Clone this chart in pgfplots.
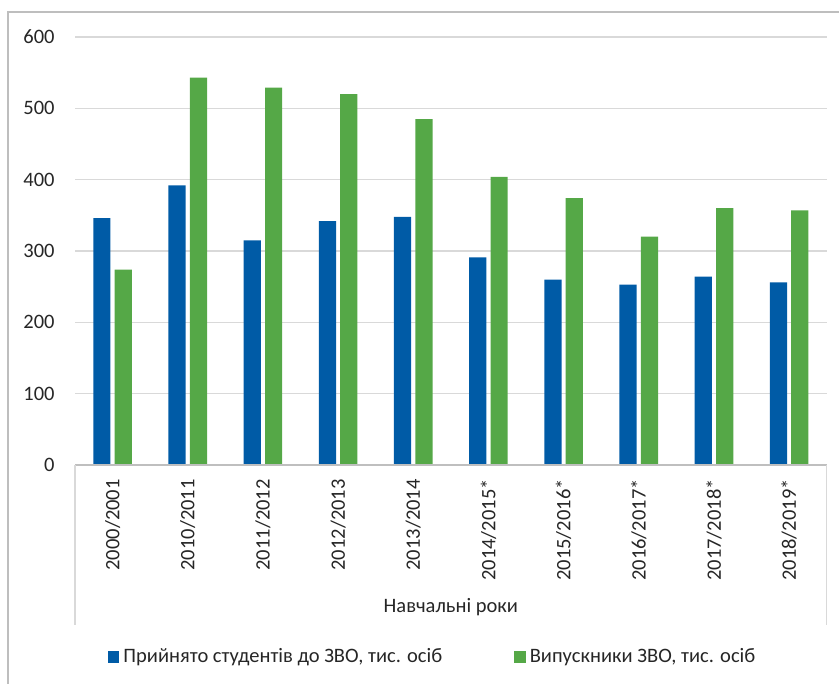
\documentclass[border=0pt]{standalone}
\usepackage{fontspec}
\setmainfont{Carlito}
\usepackage{pgfplots}
\pgfplotsset{compat=1.18}
\definecolor{barblue}{HTML}{005BA6}
\definecolor{bargreen}{HTML}{55A847}
\definecolor{gridgray}{HTML}{D9D9D9}
\definecolor{axisgray}{HTML}{BFBFBF}
\definecolor{framegray}{HTML}{BEBEBE}
\definecolor{txt}{HTML}{262626}
\newcommand{\chartfont}{\fontsize{10.25}{12}\selectfont}

\begin{document}
\begin{tikzpicture}
\useasboundingbox (0,0) rectangle (419.5pt,-342pt);
\begin{axis}[
    at={(37.5pt,-232.5pt)}, anchor=south west,
    scale only axis,
    width=375.85pt, height=214pt,
    ybar, bar width=8.6pt,
    xmin=-0.5, xmax=9.5,
    ymin=0, ymax=600,
    ytick={0,100,...,600},
    xtick={0,...,9},
    xticklabels={2000/2001, 2010/2011, 2011/2012, 2012/2013, 2013/2014,
                 2014/2015*, 2015/2016*, 2016/2017*, 2017/2018*, 2018/2019*},
    major tick length=0pt,
    axis line style={draw=none},
    ymajorgrids,
    grid style={gridgray, line width=0.6pt},
    clip=false,
    /pgf/number format/assume math mode=true,
    every tick label/.append style={font=\chartfont, text=txt},
    y tick label style={anchor=east, inner sep=0pt, xshift=-10pt},
    x tick label style={yshift=-7pt, rotate=90, anchor=east, inner sep=0pt},
    xlabel={Навчальні роки},
    xlabel style={at={(axis description cs:0.5,-0.3318)}, anchor=center,
                  font=\chartfont, text=txt},
    legend columns=2,
    legend style={draw=none, fill=none, at={(0.477,-0.4486)}, anchor=center,
                  font=\chartfont, text=txt,
                  /tikz/every even column/.append style={column sep=34pt}},
    legend image code/.code={\draw[#1,/tikz/.cd,draw=none] (0pt,-2.9pt) rectangle (5.8pt,2.9pt);},
]
\addplot[fill=barblue, draw=none, bar shift=-5.35pt] coordinates {
    (0,346) (1,392) (2,315) (3,342) (4,348)
    (5,291) (6,260) (7,253) (8,264) (9,256)
};
\addplot[fill=bargreen, draw=none, bar shift=5.35pt] coordinates {
    (0,274) (1,543) (2,529) (3,520) (4,485)
    (5,404) (6,374) (7,320) (8,360) (9,357)
};
\legend{{Прийнято студентів до ЗВО, тис. осіб}, {Випускники ЗВО, тис. осіб}}

% category axis box
\draw[axisgray, line width=0.6pt] (axis cs:-0.5,0) -- (axis cs:9.5,0);
\draw[gridgray, line width=0.6pt] (axis description cs:0,0) -- (axis description cs:0,-0.3738);
\draw[gridgray, line width=0.6pt] (axis description cs:1,0) -- (axis description cs:1,-0.3738);
\end{axis}
% outer chart frame
\draw[framegray, line width=1pt] (4.15pt,-345pt) -- (4.15pt,-6pt) -- (425pt,-6pt);
\end{tikzpicture}
\end{document}
